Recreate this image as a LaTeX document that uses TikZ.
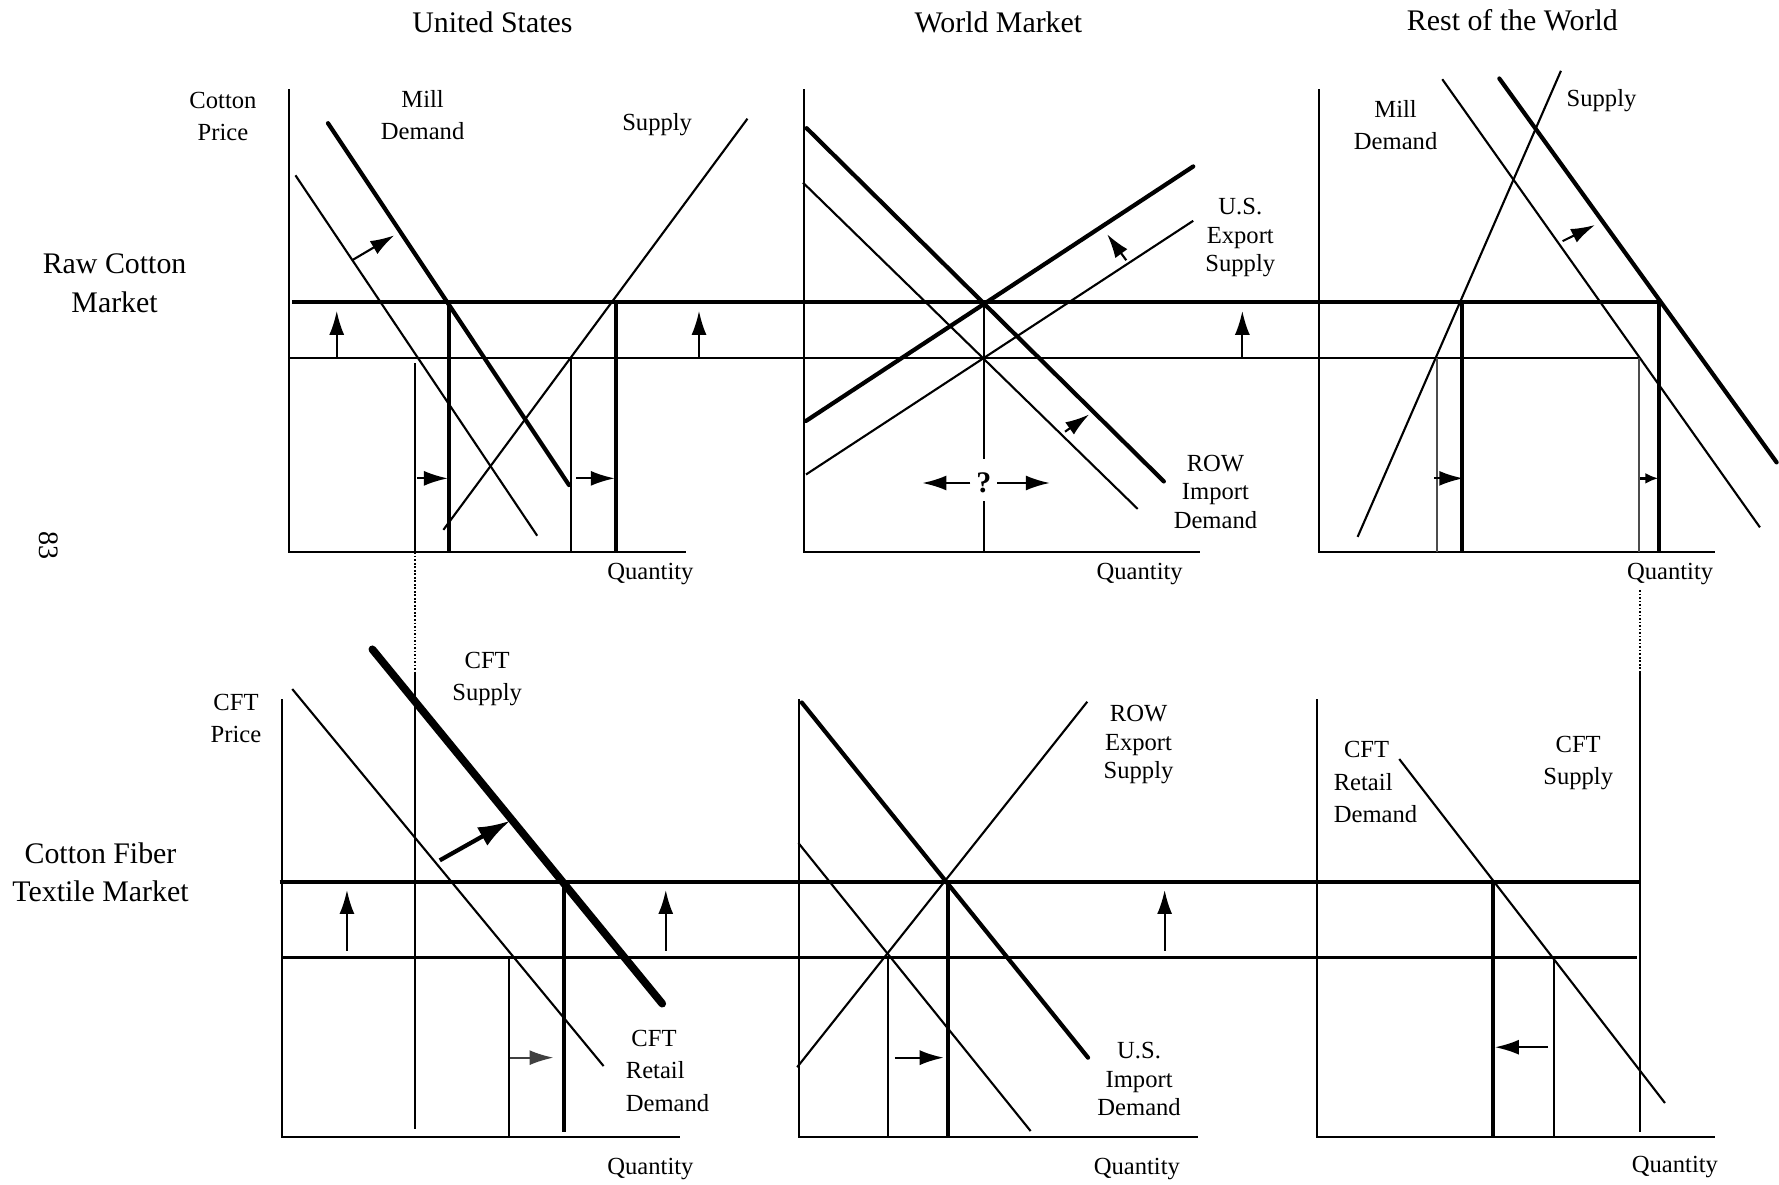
\documentclass[tikz,border=0pt]{standalone}
\usepackage{fontspec}
\setmainfont{Liberation Serif}
\usetikzlibrary{arrows.meta}
\tikzset{
  oldcurve/.style={line width=0.6pt},
  newcurve/.style={line width=1.2pt, line cap=round},
  newsupply/.style={line width=2.2pt, line cap=round},
  lbl/.style={font=\fontsize{7}{9.2}\selectfont, align=center, inner sep=0pt},
  tlbl/.style={font=\fontsize{7}{8.1}\selectfont, align=center, inner sep=0pt},
  heading/.style={font=\fontsize{8.5}{11}\selectfont, align=center, inner sep=0pt},
  push/.style={line width=0.6pt, -{Latex[length=2.4mm,width=1.5mm]}},
  trail/.style={line width=0.6pt, dash pattern=on 0.5pt off 0.5pt},
}

\begin{document}
\begin{tikzpicture}[x=0.11346mm, y=-0.11346mm]
		%%%%% START %%%%%
		\useasboundingbox (0,0) rectangle (1568,1044);

		\node[heading] (us) at (434,20) {United States};
		\node[heading] (wm) at (880,20) {World Market};
		\node[heading] (rw) at (1333,18) {Rest of the World};
		\node[heading] (raw) at (101,249.6) {Raw Cotton\\Market};
		\node[heading] (cft) at (88.6,768.8) {Cotton Fiber\\Textile Market};
		\node[font=\fontsize{8}{9}\selectfont, rotate=-90, inner sep=0pt] (pg) at (42.7,480.6) {83};

		% raw cotton, united states
		\draw[oldcurve] (254.5,78.6) -- (254.5,486.7) -- (605,486.7);
		\node[lbl] (uspr) at (196.5,102.7) {Cotton\\Price};
		\node[lbl] (usmd) at (372.5,101.7) {Mill\\Demand};
		\node[lbl] (ussu) at (579.2,109.6) {Supply};
		\node[lbl] (usq) at (573.3,506) {Quantity};
		\draw[oldcurve] (260.4,154.5) -- (473.5,472.2);
		\draw[newcurve] (289.1,108.6) -- (501.5,427.5);
		\draw[oldcurve] (658.8,104.6) -- (390.8,467);
		\draw[newcurve, line cap=butt] (396,266.5) -- (396,486.7);
		\draw[newcurve, line cap=butt] (542.8,266.5) -- (542.8,486.7);
		\draw[oldcurve] (365.6,320) -- (365.6,486.7);
		\draw[oldcurve] (503.6,315.7) -- (503.6,486.7);
		\draw[push] (296.8,315.7) -- (296.8,274);
		\draw[push] (616.1,315.7) -- (616.1,274);
		\draw[push] (367.7,421.6) -- (394.8,421.6);
		\draw[push] (508,421.6) -- (541.9,421.6);
		\draw[push] (310.3,229.4) -- (347.6,207.4);

		% price lines across the raw cotton market
		\draw[newcurve, line cap=butt] (257.7,266.5) -- (1462.4,266.5);
		\draw[oldcurve] (254.5,315.7) -- (1444.6,315.7);

		% raw cotton, world market
		\draw[oldcurve] (708.4,78.6) -- (708.4,486.7) -- (1058,486.7);
		\draw[newcurve] (711,113) -- (1025.8,424.3);
		\draw[oldcurve] (707.7,160.9) -- (1002.8,448.6);
		\draw[newcurve] (710.4,371) -- (1051.7,146.7);
		\draw[oldcurve] (710.4,418.2) -- (1051.7,194.6);
		\draw[oldcurve] (867.2,266.5) -- (867.2,404.8);
		\draw[oldcurve] (867.2,441.9) -- (867.2,486.7);
		\node[font=\fontsize{8.5}{10}\bfseries\selectfont, inner sep=0pt] (q) at (867.2,425.7) {?};
		\coordinate (qL) at (813,425.7);
		\coordinate (qR) at (925.3,425.7);
		\draw[push, shorten <=1.5pt] (q) -- (qL);
		\draw[push, shorten <=1.5pt] (q) -- (qR);
		\draw[push] (992.7,229.4) -- (975.8,206.4);
		\draw[push] (938.7,380.5) -- (960,365.3);
		\draw[push] (1095,315.7) -- (1095,274);
		\node[tlbl] (wmes) at (1093.2,209.6) {U.S.\\Export\\Supply};
		\node[tlbl] (wmid) at (1071.3,433.2) {ROW\\Import\\Demand};
		\node[lbl] (wmq) at (1004.5,506) {Quantity};

		% raw cotton, rest of the world
		\draw[oldcurve] (1162.5,78.6) -- (1162.5,486.7) -- (1511.5,486.7);
		\node[lbl] (rwmd) at (1230.1,110.1) {Mill\\Demand};
		\node[lbl] (rwsu) at (1411.6,88.4) {Supply};
		\node[lbl] (rwq) at (1472,506) {Quantity};
		\draw[oldcurve] (1375.8,62.4) -- (1196.6,473.2);
		\draw[oldcurve] (1271.2,69.8) -- (1551.2,464.8);
		\draw[newcurve] (1321.5,69.2) -- (1565.9,407.5);
		\draw[newcurve, line cap=butt] (1288.3,266.5) -- (1288.3,486.7);
		\draw[newcurve, line cap=butt] (1462.4,266.5) -- (1462.4,486.7);
		\draw[oldcurve, black!70] (1266.8,315.7) -- (1266.8,486.7);
		\draw[oldcurve, black!70] (1444.6,315.7) -- (1444.6,486.7);
		\draw[push] (1264,421.6) -- (1289.7,421.6);
		\draw[line width=1pt, -{Latex[length=1.3mm,width=1.1mm]}] (1445.5,421.6) -- (1461.6,421.6);
		\draw[push] (1377.3,212.5) -- (1405.8,198.3);

		% links between the two markets
		\draw[trail] (365.6,486.7) -- (365.6,592);
		\draw[oldcurve] (365.6,592) -- (365.6,995);
		\draw[trail] (1445.4,520) -- (1445.4,593);
		\draw[oldcurve] (1445.4,593) -- (1445.4,998);

		% textile, united states
		\draw[oldcurve] (248.2,616.4) -- (248.2,1002.5) -- (599.4,1002.5);
		\node[lbl] (cfpr) at (208,633.1) {CFT\\Price};
		\node[lbl] (cfsu) at (429.4,598.6) {CFT\\Supply};
		\node[lbl, align=left, anchor=west, font=\fontsize{7}{9.3}\selectfont] (cfrd) at (551,943.7) {\hspace*{1.6pt}CFT\\Retail\\Demand};
		\node[lbl] (cfq) at (573.3,1030) {Quantity};
		\draw[oldcurve] (257.6,607.3) -- (532,939.6);
		\draw[newsupply] (328.2,572.3) -- (583.7,884.6);
		\draw[newcurve, line cap=butt] (496.9,777.4) -- (496.9,997.4);
		\draw[oldcurve] (448.8,843.9) -- (448.8,1002.5);
		\draw[push] (305.8,837.8) -- (305.8,784.4);
		\draw[push] (586.8,837.8) -- (586.8,784.4);
		\draw[push, black!75] (449.7,932.2) -- (487.9,932.2);
		\draw[line width=1.2pt, -{Latex[length=3.2mm,width=2.1mm]}] (387.6,758.3) -- (449.7,723.4);

		% price lines across the textile market
		\draw[newcurve, line cap=butt] (246.5,777.4) -- (1445.4,777.4);
		\draw[oldcurve] (248.2,843.9) -- (1443,843.9);

		% textile, world market
		\draw[oldcurve] (704.4,616.4) -- (704.4,1002.5) -- (1056,1002.5);
		\draw[newcurve] (706.7,619.2) -- (959,932.2);
		\draw[oldcurve] (703.7,743) -- (908.4,996.9);
		\draw[oldcurve] (958.3,618.5) -- (702.6,940.6);
		\draw[newcurve, line cap=butt] (835.9,777.4) -- (835.9,1002.5);
		\draw[oldcurve] (782.9,843.9) -- (782.9,1002.5);
		\draw[push] (788.7,932.2) -- (831.8,932.2);
		\draw[push] (1026.5,837.8) -- (1026.5,784.4);
		\node[tlbl] (wmxs) at (1003.5,656.5) {ROW\\Export\\Supply};
		\node[tlbl] (wmim) at (1004,951) {U.S.\\Import\\Demand};
		\node[lbl] (wmq2) at (1002,1030) {Quantity};

		% textile, rest of the world
		\draw[oldcurve] (1160.5,616.4) -- (1160.5,1002.5) -- (1511.5,1002.5);
		\draw[oldcurve] (1233.3,669) -- (1467.5,972.2);
		\draw[newcurve, line cap=butt] (1316.2,777.4) -- (1316.2,1002.5);
		\draw[oldcurve] (1369.6,843.9) -- (1369.6,1002.5);
		\draw[push] (1364.6,923) -- (1317.6,923);
		\node[lbl, align=left, anchor=west, font=\fontsize{7}{9.3}\selectfont] (rwrd) at (1175,689.4) {\hspace*{2.9pt}CFT\\Retail\\Demand};
		\node[lbl, font=\fontsize{7}{9.3}\selectfont] (rwcs) at (1391,672.4) {CFT\\Supply};
		\node[lbl] (rwq2) at (1476.3,1029) {Quantity};

		%%%%% END %%%%%
\end{tikzpicture}
\end{document}
